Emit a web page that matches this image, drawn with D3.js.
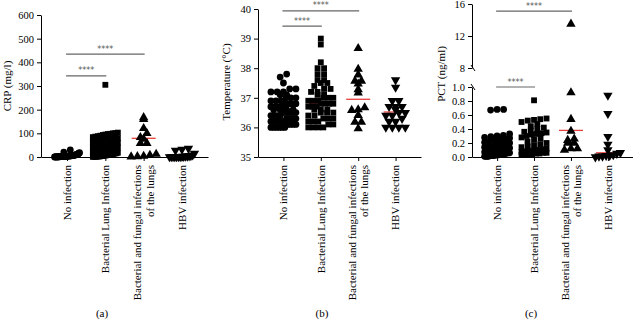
<!DOCTYPE html>
<html lang="en">
<head>
<meta charset="UTF-8" />
<title>CRP, temperature and PCT by infection group</title>
<script src="https://cdn.jsdelivr.net/npm/d3@7"></script>
<style>
  body { margin: 0; background: #fff; }
  svg { display: block; font-family: "Liberation Serif", "DejaVu Serif", serif; }
</style>
</head>
<body>
<svg id="chart" width="633" height="320"></svg>
<script>
// groups, shared by all three panels
const categories = ["No infection", "Bacterial Lung Infection", "Bacterial and fungal infections of the lungs", "HBV infection"];
const categoryLines = [["No infection"], ["Bacterial Lung Infection"], ["Bacterial and fungal infections", "of the lungs"], ["HBV infection"]];

// (a) CRP, mg/l
const crpTicks = [0, 100, 200, 300, 400, 500, 600];
const crpNoInf = [30, 21, 18, 16, 14, 13, 12, 10, 10, 9, 8, 8, 7, 7, 6, 6, 6, 5, 5, 5, 5, 4, 4, 4, 4, 3, 3, 3, 3, 3, 2, 2, 2, 2, 2, 2, 1.5, 1.5, 1, 1, 1, 1, 1, 0.5, 0.5, 0.5, 0.3, 0.3];
const crpBact = [305, 103, 101, 100, 98, 97, 95, 93, 90, 88, 86, 84, 80, 78, 75, 72, 70, 66, 63, 60, 58, 55, 52, 50, 48, 46, 44, 42, 40, 38, 36, 34, 32, 30, 28, 27, 25, 23, 21, 20, 18, 16, 15, 13, 12, 10, 9, 8, 7, 6, 5, 4, 3, 2, 2, 1, 1, 0.5];
const crpFungal = [167, 159, 121, 100, 83, 76, 58, 58, 12, 8, 4, 2, 1];
const crpHbv = [36, 32, 28, 15, 8, 5, 4, 3, 3, 2, 2, 1, 1, 1, 0.5, 0.5, 0.2, 0.2];
const crpMedian = [4, 42, 79, 2];
const crpSig = [[0, 1, 343], [0, 2, 435]];

// (b) temperature, °C
const tempTicks = [35, 36, 37, 38, 39, 40];
const tempNoInf = [37.8, 37.7, 37.5, 37.3, 37.3, 37.2, 37.2, 37.2, 37.1, 37.1, 37.0, 37.0, 37.0, 36.9, 36.9, 36.9, 36.8, 36.8, 36.8, 36.8, 36.7, 36.7, 36.7, 36.7, 36.6, 36.6, 36.6, 36.6, 36.5, 36.5, 36.5, 36.5, 36.5, 36.4, 36.4, 36.4, 36.4, 36.3, 36.3, 36.3, 36.3, 36.2, 36.2, 36.2, 36.2, 36.2, 36.1, 36.1, 36.1, 36.1, 36.0, 36.0, 36.0, 36.0, 36.0, 36.0];
const tempBact = [39.0, 38.8, 38.2, 38.0, 38.0, 37.8, 37.8, 37.6, 37.6, 37.5, 37.5, 37.4, 37.3, 37.3, 37.2, 37.2, 37.1, 37.1, 37.0, 37.0, 37.0, 36.9, 36.9, 36.9, 36.8, 36.8, 36.8, 36.8, 36.7, 36.7, 36.7, 36.6, 36.6, 36.6, 36.5, 36.5, 36.5, 36.4, 36.4, 36.3, 36.3, 36.3, 36.2, 36.2, 36.2, 36.1, 36.1, 36.0, 36.0, 36.0, 36.0];
const tempFungal = [38.67, 37.97, 37.78, 37.57, 37.57, 37.47, 37.28, 37.17, 36.67, 36.6, 36.58, 36.41, 36.18, 36.18, 35.96];
const tempHbv = [37.6, 37.35, 36.9, 36.9, 36.7, 36.7, 36.7, 36.6, 36.5, 36.5, 36.4, 36.4, 36.3, 36.2, 36.2, 36.0, 36.0, 36.0, 36.0];
const tempMedian = [36.6, 36.8, 36.95, 36.52];
const tempSig = [[0, 1, 39.42], [0, 2, 39.94]];

// (c) PCT, ng/ml, broken axis
const pctLowTicks = [0, 0.2, 0.4, 0.6, 0.8, 1.0];
const pctHighTicks = [8, 12, 16];
const pctNoInf = [0.68, 0.68, 0.67, 0.33, 0.31, 0.3, 0.29, 0.28, 0.27, 0.26, 0.25, 0.24, 0.22, 0.21, 0.2, 0.19, 0.18, 0.17, 0.16, 0.15, 0.15, 0.14, 0.13, 0.12, 0.12, 0.11, 0.1, 0.1, 0.09, 0.09, 0.08, 0.08, 0.07, 0.07, 0.06, 0.06, 0.06, 0.05, 0.05, 0.05, 0.04, 0.04, 0.04, 0.03, 0.03, 0.03, 0.02, 0.02, 0.02, 0.02, 0.01, 0.01, 0.01, 0.01];
const pctBact = [0.81, 0.55, 0.54, 0.53, 0.52, 0.5, 0.47, 0.44, 0.42, 0.4, 0.38, 0.36, 0.35, 0.34, 0.33, 0.32, 0.3, 0.28, 0.26, 0.25, 0.22, 0.2, 0.18, 0.17, 0.15, 0.14, 0.12, 0.11, 0.1, 0.1, 0.09, 0.08, 0.08, 0.07, 0.06, 0.06, 0.05, 0.05, 0.04, 0.04, 0.03, 0.03];
const pctFungal = [13.5, 0.92, 0.54, 0.37, 0.26, 0.24, 0.2, 0.2, 0.12, 0.12, 0.1];
const pctHbv = [0.88, 0.62, 0.29, 0.18, 0.1, 0.06, 0.05, 0.03, 0.02, 0.02, 0.01, 0.01, 0.0];
const pctMedian = [0.06, 0.1, 0.38, 0.06];
const pctSig = [[0, 1, 1.0], [0, 2, 15.1]];

const svg = d3.select("#chart");
const fs = 11;

const shapes = [
  { type: d3.symbolCircle, size: 36, rot: 0 },
  { type: d3.symbolSquare, size: 34, rot: 0 },
  { type: d3.symbolTriangle, size: 38, rot: 0 },
  { type: d3.symbolTriangle, size: 38, rot: 180 }
];

// rows of points side by side, squeezed when a row gets too wide
function swarm(values, y, cx) {
  const rowH = 5, gap = 6.5, maxHalf = 12.5;
  const pts = values.map(v => ({ v, py: y(v) })).sort((a, b) => a.v - b.v);
  const rows = d3.group(pts, p => Math.round(p.py / rowH));
  const out = [];
  for (const [, row] of rows) {
    const n = row.length;
    const step = n > 1 ? Math.min(gap, (2 * maxHalf) / (n - 1)) : 0;
    row.forEach((p, i) => out.push({ x: cx + (i - (n - 1) / 2) * step, y: p.py }));
  }
  return out;
}

function drawPanel(p) {
  const g = svg.append("g");
  const x = d3.scalePoint().domain(categories).range([p.left, p.right]).padding(0.68);

  // y axis (one or two segments)
  p.axes.forEach(a => {
    const ax = g.append("g")
      .attr("transform", `translate(${p.left},0)`)
      .call(d3.axisLeft(a.scale).tickValues(a.ticks).tickSize(4).tickSizeOuter(0).tickPadding(3).tickFormat(a.fmt));
    ax.selectAll("text").attr("font-size", 10.5).attr("font-family", "Liberation Serif").attr("fill", "#000");
    ax.selectAll("line,path").attr("stroke", "#000");
  });
  (p.breaks || []).forEach(by => {
    g.append("line").attr("x1", p.left - 1).attr("x2", p.left + 3)
      .attr("y1", by - 3).attr("y2", by + 3).attr("stroke", "#000");
  });

  // x axis
  const xa = g.append("g")
    .attr("transform", `translate(0,${p.base})`)
    .call(d3.axisBottom(x).tickSize(4).tickSizeOuter(0).tickFormat(""));
  xa.selectAll("line,path").attr("stroke", "#000");

  categories.forEach((c, i) => {
    const lines = categoryLines[i];
    lines.forEach((t, j) => {
      const lx = x(c) + (j - (lines.length - 1) / 2) * 12.5;
      g.append("text")
        .attr("transform", `translate(${lx},${p.base + 8}) rotate(-90)`)
        .attr("dy", "0.35em")
        .attr("text-anchor", "end")
        .attr("font-size", fs)
        .text(t);
    });
  });

  // median lines under the points
  p.median.forEach((m, i) => {
    g.append("line")
      .attr("x1", x(categories[i]) - 12).attr("x2", x(categories[i]) + 12)
      .attr("y1", p.y(m)).attr("y2", p.y(m))
      .attr("stroke", "#e8403a").attr("stroke-width", 1.3);
  });

  p.groups.forEach((vals, i) => {
    const s = shapes[i];
    const sym = d3.symbol().type(s.type).size(s.size);
    g.append("g").selectAll("path")
      .data(swarm(vals, p.y, x(categories[i])))
      .join("path")
      .attr("d", sym)
      .attr("transform", d => `translate(${d.x},${d.y}) rotate(${s.rot})`)
      .attr("fill", "#000");
  });

  // significance bars
  p.sig.forEach(([a, b, v]) => {
    const yy = p.y(v);
    const x1 = x(categories[a]) - 1, x2 = x(categories[b]) + 1;
    g.append("line").attr("x1", x1).attr("x2", x2).attr("y1", yy).attr("y2", yy)
      .attr("stroke", "#666").attr("stroke-width", 1.2);
    g.append("text").attr("x", (x1 + x2) / 2).attr("y", yy - 2.5)
      .attr("text-anchor", "middle").attr("font-size", 8).attr("fill", "#555")
      .attr("font-family", "DejaVu Sans").text("****");
  });

  g.append("text")
    .attr("transform", `translate(${p.titleX},${p.titleY}) rotate(-90)`)
    .attr("text-anchor", "middle").attr("font-size", fs).text(p.title);

  g.append("text").attr("x", p.tagX).attr("y", 317)
    .attr("text-anchor", "middle").attr("font-size", fs).text(p.tag);
}

const yCrp = d3.scaleLinear([0, 600], [157, 15]);
drawPanel({
  left: 41, right: 208, base: 157, y: yCrp,
  axes: [{ scale: yCrp, ticks: crpTicks, fmt: d3.format("d") }],
  groups: [crpNoInf, crpBact, crpFungal, crpHbv], median: crpMedian, sig: crpSig,
  title: "CRP (mg/l)", titleX: 11, titleY: 86, tag: "(a)", tagX: 102
});

const yTemp = d3.scaleLinear([35, 40], [157, 9]);
drawPanel({
  left: 258, right: 421, base: 157, y: yTemp,
  axes: [{ scale: yTemp, ticks: tempTicks, fmt: d3.format("d") }],
  groups: [tempNoInf, tempBact, tempFungal, tempHbv], median: tempMedian, sig: tempSig,
  title: "Temperature (°C)", titleX: 230, titleY: 82, tag: "(b)", tagX: 322
});

const yPctLow = d3.scaleLinear([0, 1], [157, 87]);
const yPctHigh = d3.scaleLinear([8, 16], [68, 4]);
const yPct = v => (v > 1.5 ? yPctHigh(v) : yPctLow(v));
drawPanel({
  left: 472, right: 633, base: 157, y: yPct,
  axes: [
    { scale: yPctLow, ticks: pctLowTicks, fmt: d3.format(".1f") },
    { scale: yPctHigh, ticks: pctHighTicks, fmt: d3.format("d") }
  ],
  breaks: [yPctHigh(8), yPctLow(1)],
  groups: [pctNoInf, pctBact, pctFungal, pctHbv], median: pctMedian, sig: pctSig,
  title: "PCT (ng/ml)", titleX: 445, titleY: 74, tag: "(c)", tagX: 531
});
</script>
</body>
</html>
